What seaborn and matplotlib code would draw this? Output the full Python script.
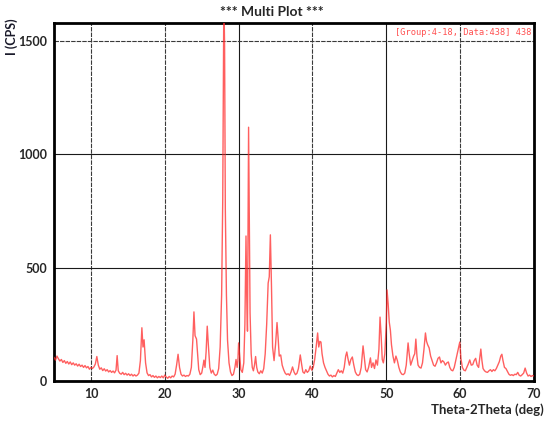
import matplotlib
matplotlib.use("Agg")
import matplotlib.pyplot as plt
import seaborn as sns
import pandas as pd
from matplotlib.ticker import MultipleLocator

two_theta = [5.0, 5.2, 5.4, 5.6, 5.8, 6.0, 6.2, 6.4, 6.6, 6.8, 7.0, 7.2, 7.4, 7.6, 7.8, 8.0, 8.2, 8.4, 8.6, 8.8,
             9.0, 9.2, 9.4, 9.6, 9.8, 10.0, 10.2, 10.4, 10.6, 10.8, 11.0, 11.2, 11.4, 11.6, 11.8, 12.0, 12.2, 12.4,
             12.6, 12.8, 13.0, 13.2, 13.4, 13.55, 13.7, 13.9, 14.1, 14.3, 14.5, 14.7, 14.9, 15.1, 15.3, 15.5, 15.7,
             15.9, 16.1, 16.3, 16.5, 16.7, 16.9, 17.05, 17.2, 17.4, 17.6, 17.8, 18.0, 18.2, 18.4, 18.6, 18.8, 19.0,
             19.2, 19.4, 19.6, 19.8, 20.0, 20.2, 20.4, 20.6, 20.8, 21.0, 21.2, 21.4, 21.6, 21.8, 22.0, 22.2, 22.4,
             22.6, 22.8, 23.0, 23.2, 23.4, 23.6, 23.8, 23.95, 24.1, 24.3, 24.45, 24.6, 24.8, 25.0, 25.2, 25.3, 25.45,
             25.6, 25.75, 25.9, 26.1, 26.3, 26.5, 26.7, 26.9, 27.1, 27.3, 27.5, 27.7, 27.85, 28.0, 28.1, 28.2, 28.35,
             28.5, 28.7, 28.9, 29.1, 29.3, 29.5, 29.65, 29.8, 29.9, 30.0, 30.15, 30.3, 30.5, 30.7, 30.85, 31.0, 31.1,
             31.2, 31.35, 31.45, 31.55, 31.7, 31.85, 32.0, 32.15, 32.3, 32.45, 32.6, 32.8, 33.0, 33.2, 33.4, 33.6,
             33.8, 34.0, 34.15, 34.3, 34.45, 34.6, 34.8, 35.0, 35.2, 35.35, 35.5, 35.7, 35.9, 36.1, 36.3, 36.5, 36.7,
             36.9, 37.1, 37.3, 37.5, 37.7, 37.9, 38.1, 38.35, 38.55, 38.7, 38.9, 39.1, 39.3, 39.5, 39.7, 39.9, 40.1,
             40.3, 40.5, 40.7, 40.85, 41.0, 41.15, 41.3, 41.5, 41.7, 41.9, 42.1, 42.3, 42.5, 42.7, 42.9, 43.1, 43.3,
             43.5, 43.7, 43.9, 44.1, 44.3, 44.5, 44.65, 44.8, 45.0, 45.2, 45.4, 45.6, 45.8, 46.0, 46.2, 46.4, 46.6,
             46.85, 47.0, 47.2, 47.4, 47.6, 47.85, 48.0, 48.2, 48.4, 48.6, 48.8, 49.0, 49.15, 49.3, 49.45, 49.6,
             49.8, 50.0, 50.1, 50.25, 50.4, 50.55, 50.7, 50.9, 51.1, 51.3, 51.5, 51.7, 51.9, 52.1, 52.3, 52.5, 52.7,
             52.95, 53.1, 53.3, 53.5, 53.7, 53.85, 54.0, 54.15, 54.3, 54.5, 54.7, 54.9, 55.1, 55.3, 55.45, 55.6,
             55.8, 56.0, 56.2, 56.4, 56.6, 56.8, 57.0, 57.2, 57.4, 57.6, 57.8, 58.0, 58.2, 58.4, 58.6, 58.8, 59.0,
             59.2, 59.4, 59.6, 59.8, 59.95, 60.1, 60.3, 60.5, 60.7, 60.9, 61.1, 61.3, 61.5, 61.7, 61.9, 62.1, 62.3,
             62.5, 62.65, 62.8, 62.95, 63.1, 63.3, 63.5, 63.7, 63.9, 64.1, 64.3, 64.5, 64.7, 64.9, 65.1, 65.3, 65.5,
             65.65, 65.8, 66.0, 66.2, 66.4, 66.6, 66.8, 67.0, 67.2, 67.4, 67.6, 67.8, 68.0, 68.2, 68.4, 68.6, 68.8,
             69.0, 69.2, 69.4, 69.6, 69.8, 70.0]

intensity = [105, 92, 110, 98, 88, 95, 82, 90, 78, 86, 75, 84, 72, 80, 70, 76, 66, 74, 64, 70,
             60, 68, 58, 64, 52, 60, 55, 62, 75, 108, 70, 52, 58, 46, 54, 44, 50, 40,
             46, 38, 44, 36, 48, 112, 45, 34, 30, 38, 28, 34, 26, 32, 24, 30, 22,
             28, 22, 26, 35, 90, 235, 150, 182, 80, 36, 24, 28, 18, 24, 16, 22, 14,
             20, 15, 22, 14, 26, 18, 12, 20, 14, 22, 18, 30, 70, 118, 60, 30, 22,
             26, 20, 24, 22, 30, 60, 180, 305, 200, 185, 120, 50, 28, 35, 70, 92, 60,
             130, 242, 160, 60, 35, 48, 30, 24, 30, 55, 150, 380, 800, 1700, 1480, 760, 380,
             180, 80, 40, 24, 30, 60, 95, 60, 90, 168, 110, 50, 38, 80, 250, 640, 380,
             220, 1120, 700, 300, 120, 60, 45, 70, 108, 60, 40, 32, 45, 35, 55, 120,
             250, 432, 460, 645, 420, 150, 90, 160, 258, 190, 110, 115, 70, 50, 35, 28, 32,
             25, 40, 62, 40, 28, 34, 55, 115, 70, 40, 34, 50, 38, 45, 66, 48, 60,
             95, 150, 212, 150, 175, 172, 120, 80, 60, 45, 30, 22, 26, 18, 24, 20, 35,
             50, 38, 45, 35, 60, 110, 128, 100, 70, 95, 106, 70, 40, 28, 24, 30, 60,
             155, 110, 50, 40, 60, 102, 60, 80, 55, 93, 70, 140, 282, 200, 95, 80,
             120, 260, 402, 340, 260, 225, 160, 110, 80, 110, 90, 60, 40, 30, 28, 35, 70,
             168, 120, 70, 90, 110, 120, 185, 110, 70, 60, 57, 80, 140, 212, 175, 160,
             146, 110, 90, 70, 65, 80, 100, 106, 80, 90, 84, 70, 80, 84, 60, 48, 45,
             60, 90, 120, 150, 172, 100, 60, 48, 45, 60, 75, 93, 70, 72, 90, 100, 70,
             60, 100, 141, 90, 55, 45, 40, 38, 45, 50, 42, 50, 45, 55, 70, 85, 110,
             118, 90, 60, 55, 42, 30, 25, 28, 24, 30, 28, 38, 25, 22, 28, 35, 57,
             35, 22, 26, 20, 24, 22]

x_ticks = [10, 20, 30, 40, 50, 60, 70]
y_ticks = [0, 500, 1000, 1500]

df = pd.DataFrame({"two_theta": two_theta, "intensity": intensity})

sns.set_style("white")
plt.rcParams["font.family"] = ["Lato", "DejaVu Sans"]

fig = plt.figure(figsize=(5.44, 4.21), dpi=100)
ax = fig.add_axes([54 / 544, 40 / 421, 480 / 544, 358 / 421])

sns.lineplot(data=df, x="two_theta", y="intensity", ax=ax, color="#ff2a2a",
             linewidth=1.0, alpha=0.75, zorder=3)

ax.set_xlim(5, 70)
ax.set_ylim(0, 1580)
ax.set_xticks(x_ticks)
ax.set_yticks(y_ticks)
ax.xaxis.set_minor_locator(MultipleLocator(1))
ax.yaxis.set_minor_locator(MultipleLocator(250))
ax.tick_params(axis="both", which="major", direction="out", length=3, width=0.8,
               labelsize=9, color="#555555", pad=2)
ax.tick_params(axis="both", which="minor", direction="out", length=2, width=0.6,
               color="#888888")
for lab in ax.get_xticklabels() + ax.get_yticklabels():
    lab.set_fontweight("bold")
ax.set_xlabel("")
ax.set_ylabel("")

ax.grid(True, which="major", color="#1a1a1a", linewidth=0.8, zorder=1)
for v, gl in zip(x_ticks, ax.get_xgridlines()):
    if v in (10, 20, 40, 60):
        gl.set_linestyle((0, (4, 1)))
        gl.set_color("#3a3a3a")
for v, gl in zip(y_ticks, ax.get_ygridlines()):
    if v == 1500:
        gl.set_linestyle((0, (4, 1)))
        gl.set_color("#3a3a3a")

for s in ax.spines.values():
    s.set_visible(True)
    s.set_color("black")
    s.set_linewidth(2)

fig.text(0.5, 1 - 12 / 421, "*** Multi Plot ***", ha="center", va="center",
         fontsize=10, fontweight="bold")
fig.text(12 / 544, 1 - 18 / 421, "I (CPS)", rotation=90, ha="center", va="top",
         fontsize=9, fontweight="bold", color="#1a1a2a")
fig.text(1.0, 1 - 410 / 421, "Theta-2Theta (deg)", ha="right", va="center",
         fontsize=9.5, fontweight="bold")
ax.text(0.995, 0.985, "[Group:4-18, Data:438] 438", transform=ax.transAxes,
        ha="right", va="top", fontsize=6.2, color="#ff5050",
        family="DejaVu Sans Mono")

fig.savefig("out.png", dpi=100)
